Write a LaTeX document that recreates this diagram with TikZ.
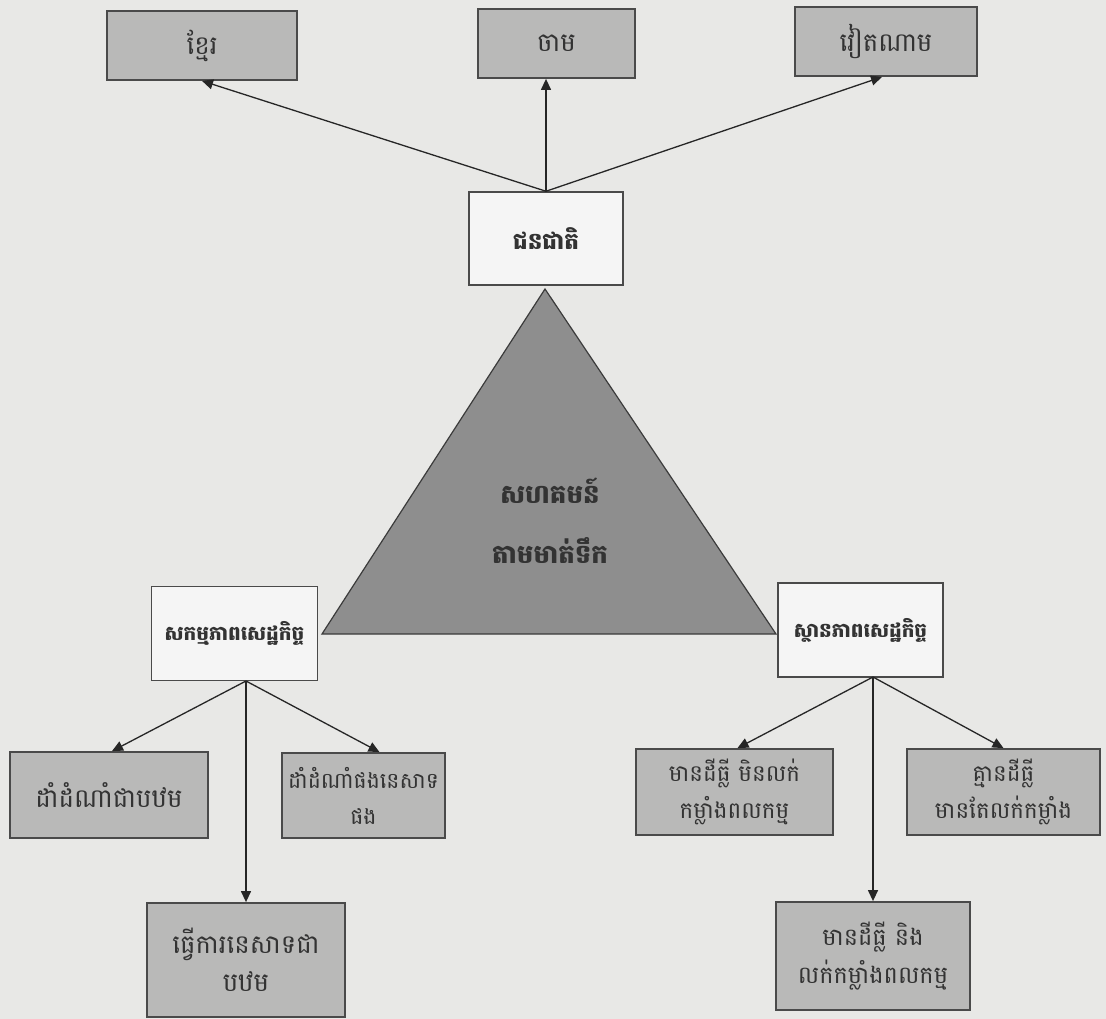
\documentclass[tikz,border=0pt]{standalone}
\usepackage{fontspec}
\newfontfamily\khmer[Script=Khmer]{Battambang}
\usetikzlibrary{arrows.meta}
\definecolor{pagebg}{HTML}{E8E8E6}
\definecolor{boxfill}{HTML}{B9B9B8}
\definecolor{trifill}{HTML}{8E8E8E}
\definecolor{edge}{HTML}{4A4A4A}
\tikzset{
  graybox/.style={draw=edge, line width=1.8pt, fill=boxfill, inner sep=0pt, align=center,
    font=\khmer\fontsize{26}{38}\selectfont, text=black!80},
  whitebox/.style={draw=edge, line width=1.5pt, fill=white!96!black, inner sep=0pt, align=center,
    font=\khmer\bfseries\fontsize{20}{34}\selectfont, text=black!80},
  conn/.style={draw=black!85, line width=1.3pt, -{Triangle[length=11pt,width=10pt]}}
}
\begin{document}
\begin{tikzpicture}[x=1pt,y=-1pt]
\fill[pagebg] (0,0) rectangle (1106,1019);
\useasboundingbox (0,0) rectangle (1106,1019);
% top row
\node[graybox, minimum width=190pt, minimum height=69pt] (khm) at (202,45.5) {ខ្មែរ};
\node[graybox, minimum width=157pt, minimum height=69pt] (cham) at (556.5,43.5) {ចាម};
\node[graybox, minimum width=182pt, minimum height=69pt] (viet) at (886,41.5) {វៀតណាម};
\node[whitebox, minimum width=154pt, minimum height=93pt, font=\khmer\bfseries\fontsize{23}{34}\selectfont] (eth) at (546,238.5) {ជនជាតិ};
% triangle
\filldraw[fill=trifill, draw=edge!80!black, line width=1.2pt] (545,289) -- (776,634) -- (322,634) -- cycle;
\node[font=\khmer\bfseries\fontsize{26}{60}\selectfont, text=black!80, align=center] (tri) at (550,521) {សហគមន៍\\តាមមាត់ទឹក};
% middle boxes
\node[whitebox, minimum width=166pt, minimum height=94pt] (act) at (234.5,633.5) {សកម្មភាពសេដ្ឋកិច្ច};
\node[whitebox, minimum width=165pt, minimum height=94pt] (stat) at (860.5,630) {ស្ថានភាពសេដ្ឋកិច្ច};
\coordinate (actout) at (246,681);
\coordinate (statout) at (873,677);
% bottom left
\node[graybox, minimum width=198pt, minimum height=86pt] (a1) at (109,795) {ដាំដំណាំជាបឋម};
\node[graybox, minimum width=163pt, minimum height=85pt, font=\khmer\fontsize{22}{36}\selectfont] (a2) at (363.5,795.5) {ដាំដំណាំផងនេសាទ\\ផង};
\node[graybox, minimum width=198pt, minimum height=114pt] (a3) at (246,960) {ធ្វើការនេសាទជា\\បឋម};
% bottom right
\node[graybox, minimum width=197pt, minimum height=86pt, font=\khmer\fontsize{23}{37}\selectfont] (s1) at (734.5,792) {មានដីធ្លី មិនលក់\\កម្លាំងពលកម្ម};
\node[graybox, minimum width=193pt, minimum height=86pt, font=\khmer\fontsize{23}{37}\selectfont] (s2) at (1003.5,792) {គ្មានដីធ្លី\\មានតែលក់កម្លាំង};
\node[graybox, minimum width=194pt, minimum height=108pt, font=\khmer\fontsize{24}{38}\selectfont] (s3) at (873,956) {មានដីធ្លី និង\\លក់កម្លាំងពលកម្ម};
% connectors
\draw[conn] (eth.north) -- (khm.south);
\draw[conn] (eth.north) -- (eth.north |- cham.south);
\draw[conn] (eth.north) -- ([xshift=-4pt]viet.south);
\draw[conn] (actout) -- ([xshift=3pt]a1.north);
\draw[conn] (actout) -- ([xshift=16pt]a2.north);
\draw[conn] (actout) -- (a3.north);
\draw[conn] (statout) -- ([xshift=3pt]s1.north);
\draw[conn] (statout) -- (statout |- s3.north);
\draw[conn] (statout) -- (s2.north);
\end{tikzpicture}
\end{document}
